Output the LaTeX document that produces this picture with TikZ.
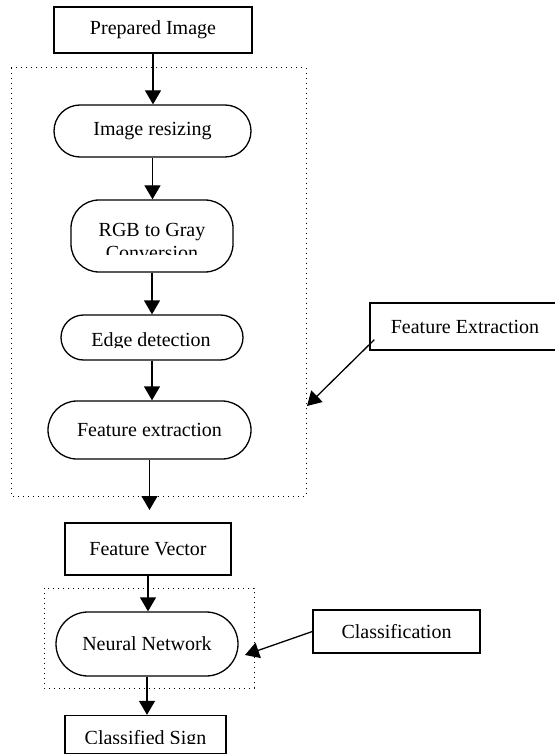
\documentclass[tikz,border=0pt]{standalone}
\usepackage{fontspec}
\setmainfont{Liberation Serif}
\usetikzlibrary{arrows.meta}

\begin{document}
\begin{tikzpicture}[x=0.5pt,y=-0.5pt]
\tikzstyle{every node}+=[inner sep=0pt,font=\fontsize{10}{12}\selectfont]
\tikzstyle{box}=[draw,line width=0.65pt,rectangle]
\tikzstyle{arr}=[line width=0.65pt,-{Triangle[width=8pt,length=7pt]}]
\tikzstyle{group}=[line width=0.5pt,dotted]
\clip (0,0) rectangle (555,754);
\node [box,minimum width=99pt,minimum height=23pt] (prep) at (153,30) {Prepared Image};
\node [box,rounded corners=13pt,minimum width=98.5pt,minimum height=26pt] (resize) at (152.5,131) {Image resizing};
\node [box,rounded corners=14pt,minimum width=81pt,minimum height=36pt] (rgb) at (152,236) {};
\node [box,rounded corners=11.25pt,minimum width=91pt,minimum height=22.5pt] (edge) at (152,337.5) {};
\node [box,rounded corners=14.5pt,minimum width=101.5pt,minimum height=29pt] (fext) at (149.5,430) {Feature extraction};
\node [box,minimum width=83pt,minimum height=26pt] (fvec) at (148,549) {Feature Vector};
\node [box,rounded corners=16pt,minimum width=91pt,minimum height=32pt] (nn) at (147,644) {Neural Network};
\node [box,minimum width=80.5pt,minimum height=19pt] (csign) at (145.5,734.5) {};
\node [box,minimum width=83.5pt,minimum height=21.5pt] (class) at (396.5,631.5) {Classification};
\node [box,minimum width=95pt,minimum height=23.5pt] (fe) at (465,326.5) {Feature Extraction};
\begin{scope}
\clip (60,190) rectangle (245,254);
\node [anchor=base] (rgbA) at (152,236) {RGB to Gray};
\node [anchor=base] (rgbB) at (152,259.5) {Conversion};
\end{scope}
\begin{scope}
\clip (60,300) rectangle (245,347.5);
\node [anchor=base] (edgeTxt) at (151,346.7) {Edge detection};
\end{scope}
\begin{scope}
\clip (60,700) rectangle (240,743.5);
\node [anchor=base] (csignTxt) at (145.5,744) {Classified Sign};
\end{scope}
\draw [group] (11,68) rectangle (306,496);
\draw [group] (44,588) rectangle (254,688);
\coordinate (fvecIn) at (149.5,510);
\coordinate (classTip) at (245,655);
\coordinate (feTip) at (307,406);
\draw [arr] (prep.south) -- (prep.south |- resize.north);
\draw [arr] (resize.south) -- (resize.south |- rgb.north);
\draw [arr] (rgb.south) -- (rgb.south |- edge.north);
\draw [arr] (edge.south) -- (edge.south |- fext.north);
\draw [arr] (fext.south) -- (fext.south |- fvecIn);
\draw [arr] (fvec.south) -- (fvec.south |- nn.north);
\draw [arr] (nn.south) -- (nn.south |- csign.north);
\draw [arr] (class.west) -- (classTip);
\draw [arr] ([shift={(5,-11)}]fe.south west) -- (feTip);
\end{tikzpicture}
\end{document}
